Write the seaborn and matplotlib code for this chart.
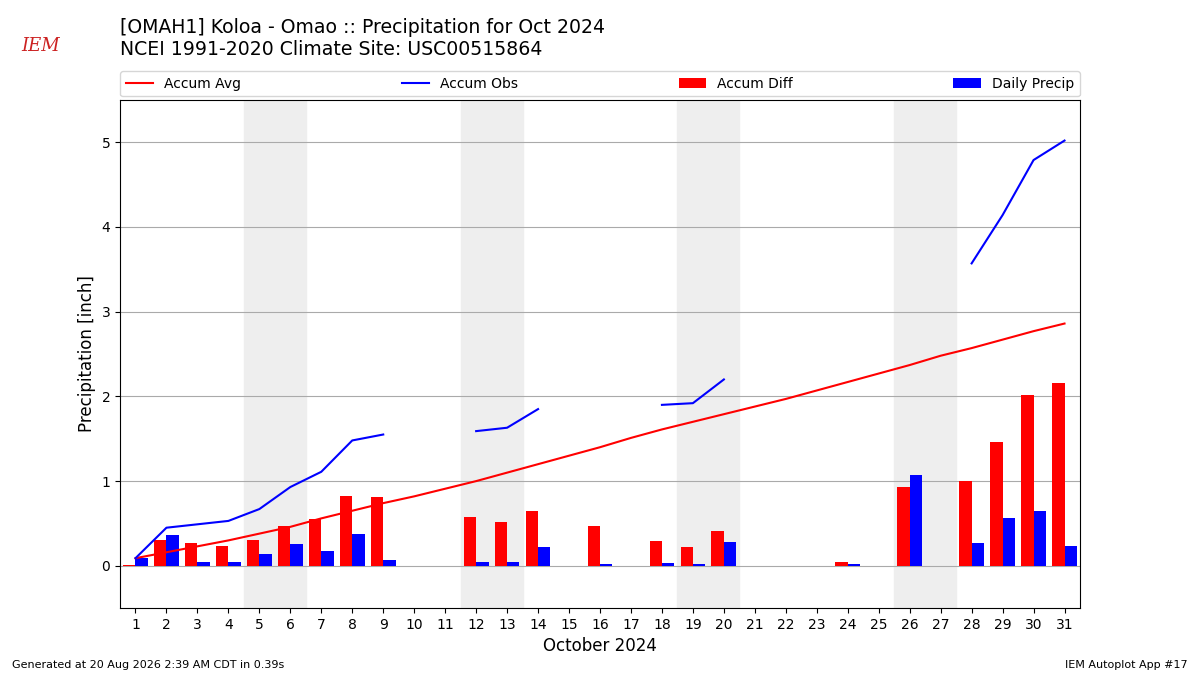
import numpy as np
import matplotlib
matplotlib.use("Agg")
import matplotlib.pyplot as plt
import seaborn as sns

days = list(range(1, 32))
accum_avg = [0.09, 0.16, 0.23, 0.30, 0.38, 0.46, 0.56, 0.65, 0.74, 0.82, 0.91, 1.00, 1.10, 1.20,
             1.30, 1.40, 1.51, 1.61, 1.70, 1.79, 1.88, 1.97, 2.07, 2.17, 2.27, 2.37, 2.48, 2.57,
             2.67, 2.77, 2.86]
nan = np.nan
accum_obs = [0.09, 0.45, 0.49, 0.53, 0.67, 0.93, 1.11, 1.48, 1.55, nan, nan, 1.59, 1.63, 1.85,
             nan, nan, nan, 1.90, 1.92, 2.20, nan, nan, nan, nan, nan, nan, nan, 3.57,
             4.14, 4.79, 5.02]
accum_diff = [0.01, 0.30, 0.27, 0.23, 0.30, 0.47, 0.55, 0.83, 0.81, 0, 0, 0.58, 0.52, 0.65,
              0, 0.47, 0, 0.29, 0.22, 0.41, 0, 0, 0, 0.04, 0, 0.93, 0, 1.00,
              1.46, 2.02, 2.16]
daily = [0.09, 0.36, 0.04, 0.04, 0.14, 0.26, 0.18, 0.37, 0.07, 0, 0, 0.04, 0.04, 0.22,
         0, 0.02, 0, 0.03, 0.02, 0.28, 0, 0, 0, 0.02, 0, 1.07, 0, 0.27,
         0.57, 0.65, 0.23]
weekends = [5, 12, 19, 26]

plt.rcParams['font.family'] = ['DejaVu Sans']
fig = plt.figure(figsize=(12, 6.75), dpi=100)
ax = fig.add_axes([0.1, 0.099, 0.8, 0.753])

for w in weekends:
    ax.axvspan(w - 0.5, w + 1.5, color="#eeeeee", zorder=0)
ax.yaxis.grid(True, color="#aaaaaa", zorder=1)
ax.set_axisbelow(True)

x = np.array(days)
ax.bar(x - 0.2, accum_diff, width=0.4, color="red", linewidth=0, label="Accum Diff", zorder=2)
ax.bar(x + 0.2, daily, width=0.4, color="blue", linewidth=0, label="Daily Precip", zorder=2)
sns.lineplot(x=days, y=accum_avg, color="red", ax=ax, label="Accum Avg", zorder=3)
ax.plot(days, accum_obs, color="blue", label="Accum Obs", zorder=3)

ax.set_xlim(0.5, 31.5)
ax.set_ylim(-0.5, 5.5)
ax.set_xticks(days)
ax.set_yticks([0, 1, 2, 3, 4, 5])
ax.tick_params(labelsize=10)
ax.set_xlabel("October 2024", fontsize=12)
ax.set_ylabel("Precipitation [inch]", fontsize=12)

h, l = ax.get_legend_handles_labels()
order = [l.index(n) for n in ["Accum Avg", "Accum Obs", "Accum Diff", "Daily Precip"]]
ax.legend([h[i] for i in order], [l[i] for i in order], ncol=4, mode="expand",
          loc="lower left", bbox_to_anchor=(0, 1.007, 1, 0.1), borderaxespad=0, fontsize=10)

fig.text(0.1, 0.913, "[OMAH1] Koloa - Omao :: Precipitation for Oct 2024\n"
         "NCEI 1991-2020 Climate Site: USC00515864", fontsize=13.6, va="bottom")
fig.text(0.018, 0.925, "IEM", color="#cc2222", fontsize=13, style="italic", family="serif")
fig.text(0.01, 0.01, "Generated at 20 Aug 2026 2:39 AM CDT in 0.39s", fontsize=8)
fig.text(0.99, 0.01, "IEM Autoplot App #17", fontsize=8, ha="right")

fig.savefig("out.png", dpi=100)
